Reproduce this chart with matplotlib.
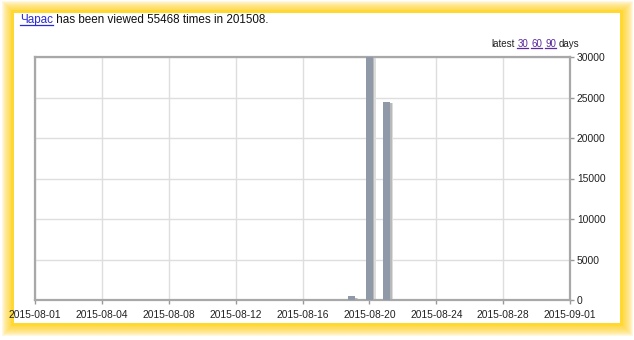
import numpy as np
import pandas as pd
import matplotlib
matplotlib.use("Agg")
import matplotlib.pyplot as plt
import matplotlib.transforms as mtransforms
from matplotlib.patches import Rectangle
from matplotlib.lines import Line2D

# ---------------------------------------------------------------------------
#  Data
# ---------------------------------------------------------------------------
article = "Чарас"
month = "201508"
total_views = 55468
start_date = "2015-08-01"
bar_dates = ["2015-08-19", "2015-08-20", "2015-08-21"]
bar_views = [500, 30468, 24500]
tick_labels = ["2015-08-01", "2015-08-04", "2015-08-08", "2015-08-12",
               "2015-08-16", "2015-08-20", "2015-08-24", "2015-08-28",
               "2015-09-01"]
y_ticks = [0, 5000, 10000, 15000, 20000, 25000, 30000]
latest_links = ["30", "60", "90"]

W, H = 634, 340
days = (pd.to_datetime(bar_dates) - pd.Timestamp(start_date)).days.values

plt.rcParams["font.family"] = ["Liberation Sans", "DejaVu Sans"]
narrow = ["Liberation Sans Narrow", "Liberation Sans", "DejaVu Sans"]

fig = plt.figure(figsize=(W / 100, H / 100), dpi=100)
fig.patch.set_facecolor("white")


def px_rect(x0, y0, x1, y1):
    """pixel box (top-left origin) -> figure fraction rectangle args"""
    return (x0 / W, 1 - y1 / H), (x1 - x0) / W, (y1 - y0) / H


# yellow glowing frame
n = 12
for i in range(n):
    g = n - i
    xy, w, h = px_rect(14 - g, 13 - g, 620 + g + 1, 323 + g + 1)
    fig.patches.append(Rectangle(xy, w, h, transform=fig.transFigure,
                                 facecolor="#FFD42A", edgecolor="none",
                                 alpha=0.14, zorder=-3))
xy, w, h = px_rect(11, 10, 623, 326)
fig.patches.append(Rectangle(xy, w, h, transform=fig.transFigure,
                             facecolor="#FFD830", edgecolor="none", zorder=-2))
xy, w, h = px_rect(14, 13, 620, 323)
fig.patches.append(Rectangle(xy, w, h, transform=fig.transFigure,
                             facecolor="white", edgecolor="none", zorder=-1))

# ---------------------------------------------------------------------------
#  Chart
# ---------------------------------------------------------------------------
ax = fig.add_axes([35 / W, 1 - 300 / H, (570 - 35) / W, (300 - 57) / H])
ax.set_facecolor("white")
xlim = (-0.2, 30.55)
ax.set_xlim(*xlim)
ax.set_ylim(0, y_ticks[-1])

# soft drop shadow: two offset layers behind the bars
for dx, col in [(2.4, "#dcdcdc"), (1.4, "#b9b9b9")]:
    shadow = mtransforms.offset_copy(ax.transData, fig=fig, x=dx, y=-1.2,
                                     units="points")
    ax.bar(days, bar_views, width=0.4, color=col, transform=shadow, zorder=2)
ax.bar(days, bar_views, width=0.4, color="#8f99a8", zorder=3)

ax.set_xticks(np.linspace(xlim[0], xlim[1], len(tick_labels)))
ax.set_xticklabels(tick_labels, family=narrow, fontsize=7.4, color="#222222")
ax.set_yticks(y_ticks)
ax.set_yticklabels([str(v) for v in y_ticks], family=narrow, fontsize=7.4,
                   color="#222222")
ax.yaxis.tick_right()
ax.tick_params(axis="both", length=3, width=1, color="#999999", pad=2)
ax.tick_params(axis="x", pad=4)
ax.grid(True, color="#dedede", linewidth=1)
ax.set_axisbelow(True)
for s in ax.spines.values():
    s.set_color("#a8a8a8")
    s.set_linewidth(1.6)

# ---------------------------------------------------------------------------
#  Texts
# ---------------------------------------------------------------------------
renderer = fig.canvas.get_renderer()


def link_text(x, y, s, color, size, underline=True, family=None):
    t = fig.text(x / W, 1 - y / H, s, color=color, fontsize=size,
                 va="baseline", ha="left", zorder=5, family=family)
    bb = t.get_window_extent(renderer)
    if underline:
        yl = bb.y0 + 1.5
        fig.lines.append(Line2D([bb.x0, bb.x1], [yl, yl],
                                transform=None, color=color, linewidth=0.9,
                                zorder=5))
    return bb.x1


x = 20
x = link_text(x, 23, article, "#2b2bd6", 8.4)
link_text(x, 23, f" has been viewed {total_views} times in {month}.",
          "#111111", 8.4, underline=False)

x = 491
x = link_text(x, 47, "latest", "#222222", 7.0, underline=False)
for lab in latest_links:
    x = link_text(x + 3, 47, lab, "#5a2a9c", 7.0)
link_text(x + 3, 47, "days", "#222222", 7.0, underline=False)

fig.savefig("out.png", dpi=100, facecolor="white")
